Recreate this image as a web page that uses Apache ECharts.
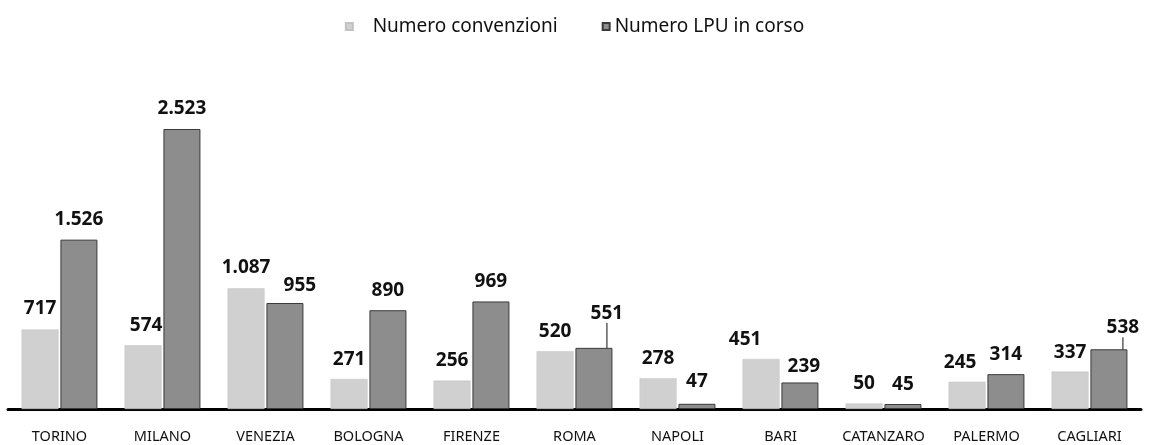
<!DOCTYPE html>
<html>
<head>
<meta charset="utf-8">
<script src="https://cdn.jsdelivr.net/npm/echarts@6/dist/echarts.min.js"></script>
<style>
html,body{margin:0;padding:0;background:#fff;}
#chart{width:1149px;height:445px;}
</style>
</head>
<body>
<div id="chart"></div>
<script>
const categories = ['TORINO','MILANO','VENEZIA','BOLOGNA','FIRENZE','ROMA','NAPOLI','BARI','CATANZARO','PALERMO','CAGLIARI'];
const seriesNames = ['Numero convenzioni','Numero LPU in corso'];
const convenzioni = [717, 574, 1087, 271, 256, 520, 278, 451, 50, 245, 337];
const lpuInCorso = [1526, 2523, 955, 890, 969, 551, 47, 239, 45, 314, 538];

// label nudges (dx, dy) to mimic the original label placement
const labelShiftA = [[0,-1],[3,0],[0,-1],[0,0],[0,0],[0,0],[0,0],[-16,0],[0,0],[-7,0],[0,0]];
const labelShiftB = [[0,-1],[0,-1],[15,2],[0,0],[0,0],[13,-15],[0,-3],[4,4],[0,0],[0,0],[14,-2]];
const leaderB = [5, 10];

function fmt(v){ return String(v).replace(/\B(?=(\d{3})+(?!\d))/g,'.'); }

const chart = echarts.init(document.getElementById('chart'), null, {renderer:'canvas'});
const labelStyle = {
  show:true, position:'top', distance:10,
  fontFamily:'Noto Sans', fontWeight:'bold', fontSize:19, color:'#111',
  formatter: p => fmt(p.value)
};
const dataB = lpuInCorso.map((v,i) => leaderB.includes(i)
  ? {value:v, labelLine:{show:true, lineStyle:{color:'#111', width:1}}}
  : {value:v});

chart.setOption({
  animation:false,
  backgroundColor:'#fff',
  legend:{
    top:12, left:'center',
    itemWidth:7, itemHeight:7, itemGap:44,
    icon:'rect',
    textStyle:{fontFamily:'Noto Sans', fontSize:19, color:'#111'},
    formatter: name => name === seriesNames[0] ? '   ' + name : name,
    data:seriesNames
  },
  grid:{left:8, right:8, top:129, bottom:36, containLabel:false},
  xAxis:{
    type:'category', data:categories,
    axisLine:{show:true, lineStyle:{color:'#000', width:3}},
    axisTick:{show:false},
    axisLabel:{fontFamily:'Noto Sans', fontSize:14.5, color:'#111', margin:20, interval:0}
  },
  yAxis:{type:'value', min:0, max:2523, show:false, splitLine:{show:false}},
  series:[
    {
      name:seriesNames[0], type:'bar', data:convenzioni,
      barWidth:37, barGap:'5%',
      itemStyle:{color:'#d0d0d0', borderColor:'#c2c2c2', borderWidth:0.5},
      label:labelStyle,
      labelLayout: p => ({dx:labelShiftA[p.dataIndex][0], dy:labelShiftA[p.dataIndex][1]})
    },
    {
      name:seriesNames[1], type:'bar', data:dataB,
      barWidth:37, barGap:'5%',
      itemStyle:{color:'#8d8d8d', borderColor:'#3a3a3a', borderWidth:1},
      label:labelStyle,
      labelLine:{show:false},
      labelLayout: p => ({dx:labelShiftB[p.dataIndex][0], dy:labelShiftB[p.dataIndex][1]})
    }
  ]
});
</script>
</body>
</html>
